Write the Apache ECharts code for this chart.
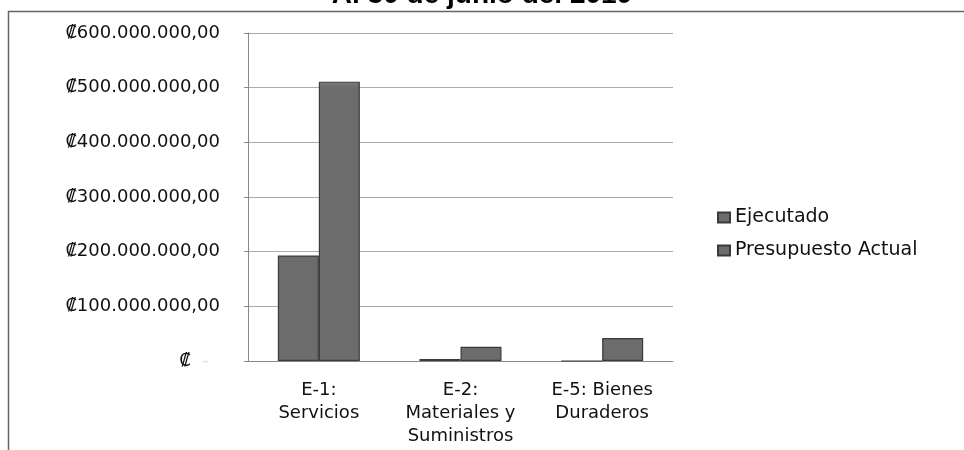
<!DOCTYPE html>
<html><head><meta charset="utf-8">
<script src="https://cdn.jsdelivr.net/npm/echarts@6/dist/echarts.min.js"></script>
<style>html,body{margin:0;padding:0;background:#fff}#c{width:964px;height:450px}</style>
</head><body><div id="c"></div>
<script>
var titleText = 'Al 30 de junio del 2010';
var categories = ['E-1:\nServicios', 'E-2:\nMateriales y\nSuministros', 'E-5: Bienes\nDuraderos'];
var seriesNames = ['Ejecutado', 'Presupuesto Actual'];
var ejecutado = [193000000, 3500000, 0];
var presupuesto = [511000000, 26000000, 42000000];
var yMax = 600000000, yStep = 100000000;

function fmt(v){
  if (v === 0) return '{z|₡}{d|  -  }';
  var s = String(Math.round(v)).replace(/\B(?=(\d{3})+(?!\d))/g, '.');
  return '₡' + s + ',00';
}
var chart = echarts.init(document.getElementById('c'), null, {renderer:'canvas'});
var barStyle = {
  color:{type:'linear', x:0, y:0, x2:0, y2:1, colorStops:[
    {offset:0, color:'#9a9a9a'}, {offset:0.004, color:'#7a7a7a'}, {offset:0.02, color:'#6c6c6c'}, {offset:1, color:'#6c6c6c'}]},
  borderColor:'#3a3a3a', borderWidth:1.2};
chart.setOption({
  animation:false,
  title:{text:titleText, left:'center', top:-24, textStyle:{fontFamily:'Liberation Sans', fontWeight:'bold', fontSize:28, color:'#000'}},
  graphic:[{type:'rect', shape:{x:8.5, y:11.5, width:970, height:460}, style:{fill:'none', stroke:'#666', lineWidth:1.5}}],
  grid:{left:248, right:291, top:33, bottom:89},
  legend:{orient:'vertical', left:712, top:203, itemGap:14, itemWidth:12, itemHeight:10, icon:'rect',
    textStyle:{fontFamily:'DejaVu Sans', fontSize:19, color:'#111'}, data:seriesNames},
  xAxis:{type:'category', data:categories,
    axisLine:{lineStyle:{color:'#888'}}, axisTick:{show:false},
    axisLabel:{interval:0, fontFamily:'DejaVu Sans', fontSize:18, color:'#111', lineHeight:23, margin:18}},
  yAxis:{type:'value', min:0, max:yMax, interval:yStep,
    axisLine:{show:true, lineStyle:{color:'#888'}}, axisTick:{show:true, length:4, lineStyle:{color:'#888'}},
    splitLine:{lineStyle:{color:'#aaa'}},
    axisLabel:{formatter:fmt, fontFamily:'DejaVu Sans', fontSize:18, color:'#111', margin:28,
      rich:{z:{fontFamily:'DejaVu Sans', fontSize:18, color:'#111'}, d:{fontFamily:'DejaVu Sans', fontSize:18, color:'#ddd'}}}},
  series:[
    {name:seriesNames[0], type:'bar', data:ejecutado, barWidth:41, barGap:'0%', itemStyle:barStyle},
    {name:seriesNames[1], type:'bar', data:presupuesto, barWidth:41, barGap:'0%', itemStyle:barStyle}
  ]
});
</script></body></html>
